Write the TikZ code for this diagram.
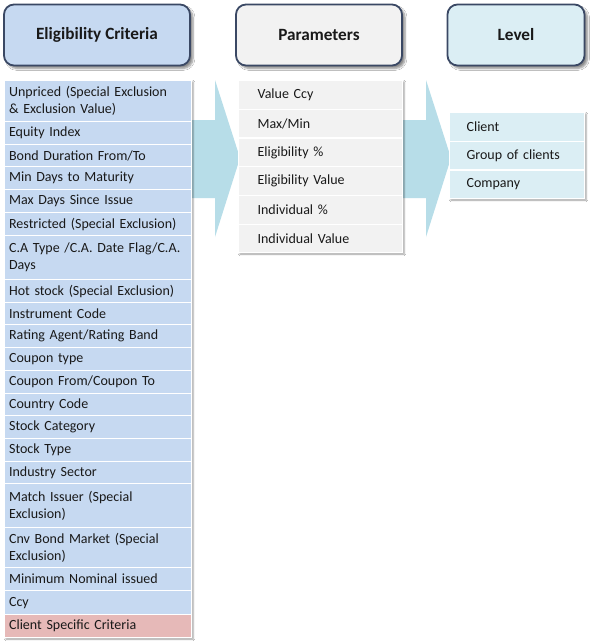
\documentclass[tikz,border=0pt]{standalone}
\usepackage{fontspec}
\setmainfont{Carlito}
\usetikzlibrary{shadows.blur}
\definecolor{critfill}{RGB}{198,217,241}
\definecolor{pinkfill}{RGB}{230,185,184}
\definecolor{parfill}{RGB}{242,242,242}
\definecolor{levfill}{RGB}{219,238,244}
\definecolor{arrowfill}{RGB}{183,221,232}
\definecolor{hdrborder}{RGB}{58,72,100}
\definecolor{txt}{RGB}{25,25,25}
\begin{document}
\begin{tikzpicture}[x=1pt,y=-1pt,
  hdr/.style={rounded corners=10pt, draw=hdrborder, line width=1.8pt, minimum height=61pt,
    font=\fontsize{17.2}{20}\selectfont\bfseries, text=txt,
    blur shadow={shadow xshift=3pt, shadow yshift=-3pt, shadow blur steps=6, shadow opacity=45}},
  crit/.style={anchor=north west, fill=critfill, draw=white, line width=1.2pt, text width=178pt,
    inner xsep=4.5pt, inner ysep=0pt, align=left, text=txt, font=\fontsize{14}{17}\selectfont},
  par/.style={anchor=north west, fill=parfill, draw=white, line width=1.2pt, text width=126pt,
    inner xsep=19pt, inner ysep=0pt, minimum height=28.7pt, align=left, text=txt, font=\fontsize{14}{17}\selectfont},
  lev/.style={anchor=north west, fill=levfill, draw=white, line width=1.2pt, text width=101pt,
    inner xsep=17pt, inner ysep=0pt, minimum height=28.7pt, align=left, text=txt, font=\fontsize{14}{17}\selectfont},
  bigarrow/.style={fill=arrowfill, draw=none},
  listshadow/.style={blur shadow={shadow xshift=2pt, shadow yshift=-2pt, shadow blur steps=4, shadow opacity=40}}
]
\useasboundingbox (0,0) rectangle (599,642);
\fill[white] (0,0) rectangle (599,642);

% big arrows
\path[bigarrow] (185,120) -- (215,120) -- (215,80) -- (240,158) -- (215,237) -- (215,198) -- (185,198) -- cycle;
\path[bigarrow] (395,120) -- (426,120) -- (426,80) -- (451,158) -- (426,237) -- (426,198) -- (395,198) -- cycle;

% headers
\node[hdr, fill=critfill, minimum width=186pt] (hc) at (97,35) {Eligibility Criteria};
\node[hdr, fill=parfill, minimum width=166pt] (hp) at (319,35) {Parameters};
\node[hdr, fill=levfill, minimum width=137pt] (hl) at (516,35) {Level};

% list backs (shadows)
\path[fill=critfill, listshadow] (4,80) rectangle (191,637);
\path[fill=parfill, listshadow] (238,80) rectangle (402,252);
\path[fill=levfill, listshadow] (449,112) rectangle (584,198);

% eligibility criteria list
\node[crit, minimum height=41pt] (c1) at (4,80) {Unpriced (Special Exclusion\\\& Exclusion Value)};
\node[crit, minimum height=23pt] (c2) at (4,121) {Equity Index};
\node[crit, minimum height=22pt] (c3) at (4,144) {Bond Duration From/To};
\node[crit, minimum height=23pt] (c4) at (4,166) {Min Days to Maturity};
\node[crit, minimum height=23pt] (c5) at (4,189) {Max Days Since Issue};
\node[crit, minimum height=23pt] (c6) at (4,212) {Restricted (Special Exclusion)};
\node[crit, minimum height=44pt] (c7) at (4,235) {C.A Type /C.A. Date Flag/C.A.\\Days};
\node[crit, minimum height=23pt] (c8) at (4,279) {Hot stock (Special Exclusion)};
\node[crit, minimum height=22pt] (c9) at (4,302) {Instrument Code};
\node[crit, minimum height=23pt] (c10) at (4,324) {Rating Agent/Rating Band};
\node[crit, minimum height=23pt] (c11) at (4,347) {Coupon type};
\node[crit, minimum height=23pt] (c12) at (4,370) {Coupon From/Coupon To};
\node[crit, minimum height=22pt] (c13) at (4,393) {Country Code};
\node[crit, minimum height=23pt] (c14) at (4,415) {Stock Category};
\node[crit, minimum height=23pt] (c15) at (4,438) {Stock Type};
\node[crit, minimum height=22pt] (c16) at (4,461) {Industry Sector};
\node[crit, minimum height=44pt] (c17) at (4,483) {Match Issuer (Special\\Exclusion)};
\node[crit, minimum height=40pt] (c18) at (4,527) {Cnv Bond Market (Special\\Exclusion)};
\node[crit, minimum height=23pt] (c19) at (4,567) {Minimum Nominal issued};
\node[crit, minimum height=24pt] (c20) at (4,590) {Ccy};
\node[crit, minimum height=23pt, fill=pinkfill] (c21) at (4,614) {Client Specific Criteria};

% parameters list
\node[par] (p1) at (238,80) {Value Ccy};
\node[par] (p2) at (238,108.7) {Max/Min};
\node[par] (p3) at (238,137.4) {Eligibility \%};
\node[par] (p4) at (238,166.1) {Eligibility Value};
\node[par] (p5) at (238,194.8) {Individual \%};
\node[par] (p6) at (238,223.5) {Individual Value};

% level list
\node[lev] (l1) at (449,112) {Client};
\node[lev] (l2) at (449,140.7) {Group of clients};
\node[lev] (l3) at (449,169.4) {Company};
\end{tikzpicture}
\end{document}
